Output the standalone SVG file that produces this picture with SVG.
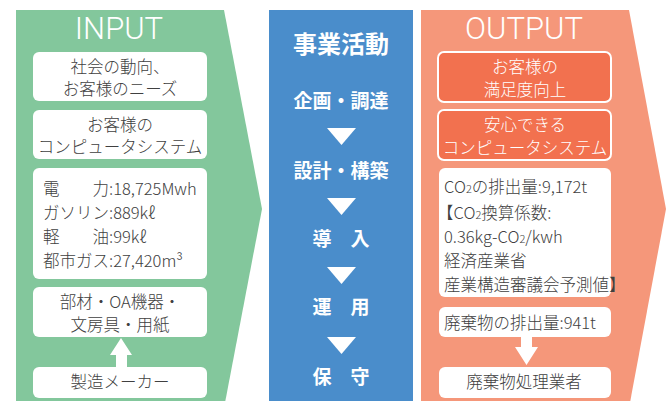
<svg xmlns="http://www.w3.org/2000/svg" width="671" height="401" viewBox="0 0 671 401">
<style>
.jp{font-family:"Noto Sans CJK JP","Noto Sans",sans-serif;font-size:16.5px;font-weight:300;fill:#404040}
.c{text-anchor:middle}
.w{fill:#ffffff}
.b{font-weight:bold;fill:#ffffff;text-anchor:middle}
.ttl{font-family:Roboto,"Liberation Sans",sans-serif;font-weight:300;font-size:31px;fill:#ffffff;text-anchor:middle}
.box{fill:#ffffff}
.obox{fill:#F2714F;stroke:#ffffff;stroke-width:2}
.arr{fill:#ffffff}
</style>
<rect width="671" height="401" fill="#ffffff"/>
<g id="input-panel">
<polygon points="16,10 224,10 262,209 224,408 16,408" fill="#83C79C"/>
<text class="ttl" x="119" y="39">INPUT</text>
</g>
<g id="activity-panel">
<rect x="269" y="10" width="144" height="400" fill="#4A8DCB"/>
<text class="jp b" x="341" y="53" style="font-size:24px">事業活動</text>
</g>
<g id="output-panel">
<polygon points="421,10 629,10 666,209 629,408 421,408" fill="#F5977A"/>
<text class="ttl" x="524" y="39">OUTPUT</text>
</g>

<g id="in-needs">
<rect class="box" x="33" y="52" width="174" height="49" rx="6"/>
<text class="jp c" x="120" y="73">社会の動向、</text>
<text class="jp c" x="120" y="95">お客様のニーズ</text>
</g>
<g id="in-system">
<rect class="box" x="33" y="110" width="174" height="49" rx="6"/>
<text class="jp c" x="120" y="131">お客様の</text>
<text class="jp c" x="120" y="153">コンピュータシステム</text>
</g>
<g id="in-energy">
<rect class="box" x="33" y="168" width="174" height="111" rx="6"/>
<text class="jp" x="43" y="195">電　　力:18,725Mwh</text>
<text class="jp" x="43" y="219">ガソリン:889kℓ</text>
<text class="jp" x="43" y="243">軽　　油:99kℓ</text>
<text class="jp" x="43" y="267">都市ガス:27,420m³</text>
</g>
<g id="in-materials">
<rect class="box" x="33" y="287" width="174" height="50" rx="6"/>
<text class="jp c" x="120" y="308">部材・OA機器・</text>
<text class="jp c" x="120" y="331">文房具・用紙</text>
</g>
<g id="in-maker">
<rect class="box" x="33" y="367" width="174" height="31" rx="6"/>
<text class="jp c" x="120" y="388">製造メーカー</text>
</g>

<g id="step-plan"><text class="jp b" x="341" y="108" style="font-size:19px">企画・調達</text></g>
<g id="step-design"><text class="jp b" x="341" y="178" style="font-size:19px">設計・構築</text></g>
<g id="step-intro"><text class="jp b" x="341" y="246" style="font-size:19px">導　入</text></g>
<g id="step-run"><text class="jp b" x="341" y="314" style="font-size:19px">運　用</text></g>
<g id="step-maint"><text class="jp b" x="341" y="384" style="font-size:19px">保　守</text></g>

<g id="out-satisfaction">
<rect class="obox" x="438" y="52" width="173" height="50" rx="6"/>
<text class="jp c w" x="525" y="73">お客様の</text>
<text class="jp c w" x="525" y="96">満足度向上</text>
</g>
<g id="out-system">
<rect class="obox" x="438" y="110" width="173" height="50" rx="6"/>
<text class="jp c w" x="525" y="131">安心できる</text>
<text class="jp c w" x="525" y="154">コンピュータシステム</text>
</g>
<g id="out-co2">
<rect class="box" x="439" y="168" width="172" height="129" rx="6"/>
<text class="jp" x="444" y="193">CO<tspan style="font-size:11px">2</tspan>の排出量:9,172t</text>
<text class="jp" x="437" y="219">【CO<tspan style="font-size:11px">2</tspan>換算係数:</text>
<text class="jp" x="444" y="243">0.36kg-CO<tspan style="font-size:11px">2</tspan>/kwh</text>
<text class="jp" x="444" y="267">経済産業省</text>
<text class="jp" x="444" y="291">産業構造審議会予測値】</text>
</g>
<g id="out-waste">
<rect class="box" x="439" y="307" width="172" height="30" rx="6"/>
<text class="jp" x="444" y="329">廃棄物の排出量:941t</text>
</g>
<g id="out-disposer">
<rect class="box" x="439" y="367" width="172" height="31" rx="6"/>
<text class="jp c" x="524" y="388">廃棄物処理業者</text>
</g>

<g id="connectors">
<polygon class="arr" points="121,338 132,355 127,355 127,367 116,367 116,355 110,355"/>
<polygon class="arr" points="521,337 532,337 532,347 538,347 526.5,365 515,347 521,347"/>
<polygon class="arr" points="327,128 356,128 341.5,145"/>
<polygon class="arr" points="327,198 356,198 341.5,215"/>
<polygon class="arr" points="327,267 356,267 341.5,284"/>
<polygon class="arr" points="327,337 356,337 341.5,354"/>
</g>
</svg>
